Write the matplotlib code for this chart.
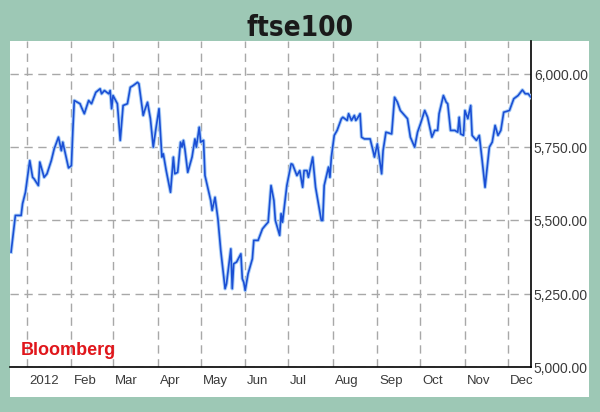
import matplotlib
matplotlib.use("Agg")
import matplotlib.pyplot as plt
import matplotlib.transforms as mtrans
import pandas as pd

title = "ftse100"
dates = ["2011-12-21","2011-12-24","2011-12-28","2011-12-29","2011-12-31","2012-01-03","2012-01-05","2012-01-06","2012-01-09","2012-01-10","2012-01-13","2012-01-15","2012-01-18","2012-01-20","2012-01-23","2012-01-25","2012-01-26","2012-01-30","2012-02-01","2012-02-02","2012-02-03","2012-02-07","2012-02-08","2012-02-10","2012-02-13","2012-02-15","2012-02-18","2012-02-21","2012-02-22","2012-02-24","2012-02-27","2012-02-28","2012-02-29","2012-03-01","2012-03-04","2012-03-06","2012-03-08","2012-03-11","2012-03-13","2012-03-15","2012-03-18","2012-03-19","2012-03-22","2012-03-23","2012-03-25","2012-03-27","2012-03-29","2012-03-31","2012-04-02","2012-04-04","2012-04-05","2012-04-07","2012-04-10","2012-04-12","2012-04-13","2012-04-15","2012-04-17","2012-04-18","2012-04-19","2012-04-20","2012-04-22","2012-04-25","2012-04-27","2012-04-28","2012-04-30","2012-05-01","2012-05-03","2012-05-04","2012-05-08","2012-05-09","2012-05-11","2012-05-13","2012-05-15","2012-05-18","2012-05-19","2012-05-22","2012-05-23","2012-05-24","2012-05-26","2012-05-29","2012-05-30","2012-05-31","2012-06-01","2012-06-03","2012-06-06","2012-06-07","2012-06-10","2012-06-13","2012-06-15","2012-06-17","2012-06-19","2012-06-21","2012-06-22","2012-06-25","2012-06-26","2012-06-27","2012-06-29","2012-06-30","2012-07-03","2012-07-04","2012-07-07","2012-07-09","2012-07-11","2012-07-12","2012-07-14","2012-07-15","2012-07-18","2012-07-20","2012-07-24","2012-07-25","2012-07-26","2012-07-29","2012-07-30","2012-07-31","2012-08-02","2012-08-04","2012-08-07","2012-08-08","2012-08-11","2012-08-12","2012-08-14","2012-08-16","2012-08-17","2012-08-18","2012-08-20","2012-08-21","2012-08-23","2012-08-27","2012-08-29","2012-08-30","2012-09-01","2012-09-04","2012-09-05","2012-09-07","2012-09-11","2012-09-13","2012-09-15","2012-09-17","2012-09-19","2012-09-22","2012-09-24","2012-09-27","2012-09-29","2012-10-01","2012-10-04","2012-10-06","2012-10-09","2012-10-11","2012-10-13","2012-10-14","2012-10-17","2012-10-19","2012-10-20","2012-10-22","2012-10-25","2012-10-27","2012-10-28","2012-10-29","2012-10-31","2012-11-01","2012-11-03","2012-11-05","2012-11-06","2012-11-09","2012-11-11","2012-11-13","2012-11-15","2012-11-18","2012-11-20","2012-11-22","2012-11-24","2012-11-26","2012-11-28","2012-12-02","2012-12-05","2012-12-08","2012-12-11","2012-12-13","2012-12-15","2012-12-17"]
values = [5392,5517,5517,5557,5596,5704,5647,5642,5619,5699,5647,5659,5704,5744,5784,5738,5767,5679,5687,5807,5909,5898,5886,5864,5909,5898,5937,5949,5932,5943,5932,5943,5881,5926,5898,5773,5892,5898,5954,5960,5971,5966,5858,5875,5903,5847,5750,5818,5881,5716,5727,5670,5596,5716,5659,5664,5767,5750,5773,5744,5664,5716,5778,5750,5818,5767,5773,5653,5568,5534,5579,5506,5397,5267,5284,5403,5267,5352,5358,5386,5301,5289,5261,5318,5369,5432,5432,5471,5483,5494,5619,5568,5500,5449,5523,5494,5579,5619,5693,5691,5653,5670,5613,5670,5670,5647,5716,5613,5500,5500,5619,5682,5647,5716,5790,5807,5847,5852,5841,5864,5841,5858,5841,5847,5864,5784,5778,5778,5738,5716,5761,5659,5738,5801,5795,5920,5903,5875,5864,5847,5784,5750,5801,5829,5875,5852,5784,5807,5807,5864,5926,5903,5898,5807,5807,5801,5852,5795,5790,5875,5847,5892,5790,5773,5790,5704,5613,5750,5767,5824,5790,5807,5869,5875,5915,5926,5945,5932,5932,5920]
month_starts = ["2012-01-01","2012-02-01","2012-03-01","2012-04-01","2012-05-01","2012-06-01","2012-07-01","2012-08-01","2012-09-01","2012-10-01","2012-11-01","2012-12-01"]
month_labels = ["2012","Feb","Mar","Apr","May","Jun","Jul","Aug","Sep","Oct","Nov","Dec"]
y_ticks = [5000, 5250, 5500, 5750, 6000]

n = min(len(dates), len(values))
x = pd.to_datetime(dates[:n])
y = values[:n]

bg = "#9dc8b5"
fig = plt.figure(figsize=(6.0, 4.12), dpi=100, facecolor=bg)

panel = fig.add_axes([10/600, 15/412, 579/600, 356/412])
panel.set_facecolor("white")
panel.set_xticks([]); panel.set_yticks([])
for s in panel.spines.values():
    s.set_visible(False)

ax = fig.add_axes([10/600, 45/412, 521/600, 326/412])
ax.set_facecolor("white")
ax.plot(x, y, color="#a9cdf7", lw=2.6, solid_joinstyle="round", zorder=3)
ax.plot(x, y, color="#1b4fd4", lw=1.2, solid_joinstyle="round", zorder=4)

ax.set_xlim(pd.Timestamp("2011-12-20 06:00"), pd.Timestamp("2012-12-17"))
ax.set_ylim(5000, 6112)

ax.set_xticks(pd.to_datetime(month_starts))
ax.set_xticklabels(month_labels)
ax.set_yticks(y_ticks)
ax.set_yticklabels([f"{v:,.2f}" for v in y_ticks])
ax.yaxis.tick_right()

ax.grid(True, color="#a8a8a8", lw=1.0, linestyle=(0, (6, 4)))
ax.set_axisbelow(True)

ax.tick_params(axis="both", length=0, labelcolor="#3a3a3a")
ax.tick_params(axis="x", pad=6, labelsize=9.5)
ax.tick_params(axis="y", pad=2, labelsize=10)
offset = mtrans.ScaledTranslation(2/100, 0, fig.dpi_scale_trans)
for lab in ax.get_xticklabels():
    lab.set_horizontalalignment("left")
    lab.set_transform(lab.get_transform() + offset)
for lab in ax.get_yticklabels():
    lab.set_verticalalignment("center")
    lab.set_transform(lab.get_transform() + mtrans.ScaledTranslation(0, -2/100, fig.dpi_scale_trans))
for lab in ax.get_xticklabels() + ax.get_yticklabels():
    lab.set_family(["Liberation Sans", "DejaVu Sans"])

ax.spines["top"].set_visible(False)
ax.spines["left"].set_visible(False)
ax.spines["right"].set_color("black")
ax.spines["bottom"].set_color("black")
ax.spines["right"].set_linewidth(1.2)
ax.spines["bottom"].set_linewidth(1.2)

ax.text(0.021, 0.052, "Bloomberg", transform=ax.transAxes, color="#e0161b",
        fontsize=13, fontweight="bold", family=["Liberation Sans", "DejaVu Sans"],
        ha="left", va="center")

fig.text(0.5, 0.932, title, ha="center", va="center", fontsize=20, fontweight="bold",
         fontstretch="condensed", color="#1a1a1a", family=["DejaVu Sans"])

fig.savefig("out.png", dpi=100, facecolor=bg)
